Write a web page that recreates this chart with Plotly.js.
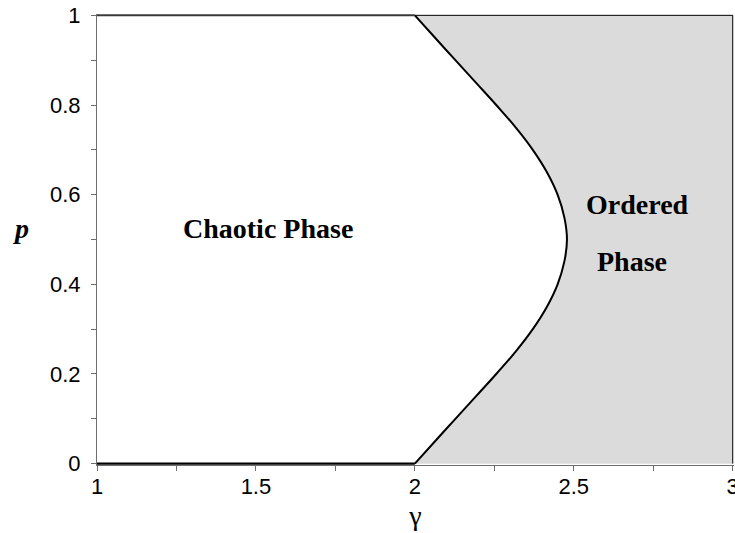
<!DOCTYPE html>
<html>
<head>
<meta charset="utf-8">
<script src="https://cdn.plot.ly/plotly-3.0.1.min.js"></script>
<style>html,body{margin:0;padding:0;background:#fff;}#chart{width:735px;height:533px;}</style>
</head>
<body>
<div id="chart"></div>
<script>
// ---- data ----
const gammaMin = 1;
const gammaMax = 3;
const pMin = 0;
const pMax = 1;
// critical boundary gamma_c(p)
const pCurve = [0, 0.05, 0.1, 0.15, 0.2, 0.25, 0.3, 0.35, 0.4, 0.45, 0.5,
                0.55, 0.6, 0.65, 0.7, 0.75, 0.8, 0.85, 0.9, 0.95, 1];
const gammaCurve = [2.0, 2.0635, 2.1275, 2.192, 2.256, 2.317, 2.371, 2.4155, 2.449, 2.470, 2.4785,
                    2.470, 2.449, 2.4155, 2.371, 2.317, 2.256, 2.192, 2.1275, 2.0635, 2.0];
const xTickVals = [1, 1.5, 2, 2.5, 3];
const yTickVals = [0, 0.2, 0.4, 0.6, 0.8, 1];
const labelChaotic = "Chaotic Phase";
const labelOrdered = "Ordered";
const labelPhase = "Phase";

// ---- traces ----
const nC = gammaCurve.length;
const fillTrace = {
  x: gammaCurve.concat([gammaMax, gammaMax]),
  y: pCurve.concat([pMax, pMin]),
  mode: 'lines', fill: 'toself', fillcolor: '#dbdbdb',
  line: {width: 0}, hoverinfo: 'skip', showlegend: false
};
const frameTrace = {
  x: [gammaCurve[nC - 1], gammaMax, gammaMax],
  y: [pMax, pMax, pMin],
  mode: 'lines', line: {color: '#000', width: 1}, showlegend: false
};
const bottomFlat = {
  x: [gammaMin, gammaCurve[0]], y: [pMin, pCurve[0]],
  mode: 'lines', line: {color: '#000', width: 2.2}, showlegend: false
};
const topFlat = {
  x: [gammaMin, gammaCurve[nC - 1]], y: [pMax, pCurve[nC - 1]],
  mode: 'lines', line: {color: '#3a3a3a', width: 2}, showlegend: false
};
const curveTrace = {
  x: gammaCurve, y: pCurve,
  mode: 'lines', line: {color: '#000', width: 2, shape: 'spline', smoothing: 1.3},
  showlegend: false
};

const axColor = '#6e6e6e';
const tickFont = {family: 'Liberation Sans, Arial, sans-serif', size: 22, color: '#000'};
const serif = 'Liberation Serif, Times New Roman, serif';

const layout = {
  width: 735, height: 533,
  margin: {l: 97, r: 1, t: 14, b: 68},
  paper_bgcolor: '#fff', plot_bgcolor: '#fff',
  xaxis: {
    range: [gammaMin, gammaMax + 0.004],
    tickvals: xTickVals, ticktext: xTickVals.map(String),
    ticks: 'outside', ticklen: 5, tickcolor: axColor, tickwidth: 1,
    minor: {dtick: 0.25, tick0: 1, ticks: 'outside', ticklen: 5, tickcolor: axColor, tickwidth: 1},
    showline: true, linecolor: axColor, linewidth: 1,
    showgrid: false, zeroline: false, layer: 'below traces',
    tickfont: tickFont, ticklabeloverflow: 'allow', ticklabelstandoff: -3,
    title: {text: 'γ', font: {family: serif, size: 28, color: '#000'}, standoff: 6}
  },
  yaxis: {
    range: [pMin - 0.003, pMax + 0.003],
    tickvals: yTickVals, ticktext: yTickVals.map(String),
    ticks: 'outside', ticklen: 5, tickcolor: axColor, tickwidth: 1,
    minor: {dtick: 0.1, tick0: 0, ticks: 'outside', ticklen: 5, tickcolor: axColor, tickwidth: 1},
    showline: true, linecolor: axColor, linewidth: 1,
    showgrid: false, zeroline: false, layer: 'below traces',
    tickfont: tickFont, ticklabelstandoff: 6, ticklabeloverflow: 'allow'
  },
  annotations: [
    {x: 1.538, y: 0.525, xref: 'x', yref: 'y', text: labelChaotic, showarrow: false,
     font: {family: serif, size: 28, color: '#000', weight: 'bold'}},
    {x: 2.701, y: 0.578, xref: 'x', yref: 'y', text: labelOrdered, showarrow: false,
     font: {family: serif, size: 28, color: '#000', weight: 'bold'}},
    {x: 2.682, y: 0.45, xref: 'x', yref: 'y', text: labelPhase, showarrow: false,
     font: {family: serif, size: 28, color: '#000', weight: 'bold'}},
    {x: 0, y: 0.525, xref: 'paper', yref: 'paper', xanchor: 'center', text: 'p', showarrow: false,
     font: {family: serif, size: 28, color: '#000', weight: 'bold', style: 'italic'}}
  ]
};
// p label sits left of the tick labels (pixel offset converted to paper units)
layout.annotations[3].x = (21 - 97) / (735 - 97 - 1);

Plotly.newPlot('chart', [fillTrace, frameTrace, bottomFlat, topFlat, curveTrace], layout,
  {staticPlot: true, displayModeBar: false});
</script>
</body>
</html>
